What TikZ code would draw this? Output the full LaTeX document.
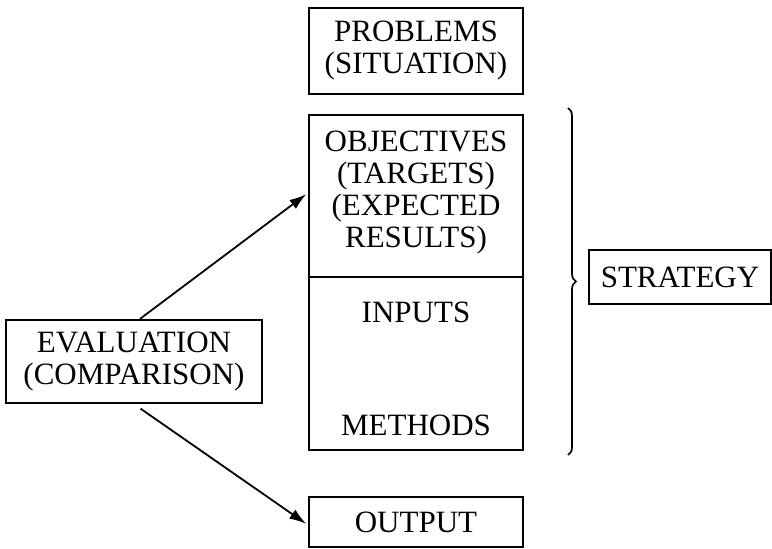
\documentclass[tikz,border=0pt]{standalone}
\usepackage{fontspec}
\setmainfont{Liberation Serif}
\usetikzlibrary{positioning,arrows.meta,decorations.pathreplacing}
\newcommand{\plantext}{\fontsize{31}{32}\selectfont}

\begin{document}
\begin{tikzpicture}[x=1pt,y=1pt,
	frame/.style={draw,line width=2.2pt,inner sep=0pt,align=center,font=\plantext,minimum width=214pt},
	lbl/.style={inner sep=0pt,align=center,font=\plantext},
	link/.style={line width=1.8pt,-{Latex[length=17pt,width=11pt]}}]
	\useasboundingbox (0,0) rectangle (772,549);

	\node[frame,minimum height=86pt] (problems) at (416,498) {PROBLEMS\\(SITUATION)};
	\node[frame,minimum height=162pt] (objectives) at (416,353) {};
	\node[lbl,below=17pt of objectives.north] (objtext) {OBJECTIVES\\(TARGETS)\\(EXPECTED\\RESULTS)};
	\node[frame,minimum height=173pt] (inputs) at (416,185.5) {};
	\node[lbl,below=26pt of inputs.north] (inptext) {INPUTS};
	\node[lbl,above=15pt of inputs.south] (methtext) {METHODS};
	\node[frame,minimum height=50pt] (output) at (416,27) {OUTPUT};

	\node[frame,minimum width=256pt,minimum height=83pt] (evaluation) at (134,187.5) {EVALUATION\\(COMPARISON)};
	\node[frame,minimum width=182pt,minimum height=54pt] (strategy) at (680,272) {STRATEGY};

	% brace over the strategy part
	\draw[decorate,decoration={brace,amplitude=8pt},line width=1.7pt] (568,441) -- (568,94);

	\draw[link,shorten >=2pt] ([xshift=6pt]evaluation.north) -- ([yshift=3pt]objectives.west);
	\draw[link,shorten <=8pt,shorten >=2pt] (evaluation.south) -- ([yshift=-3pt]output.west);
\end{tikzpicture}
\end{document}
